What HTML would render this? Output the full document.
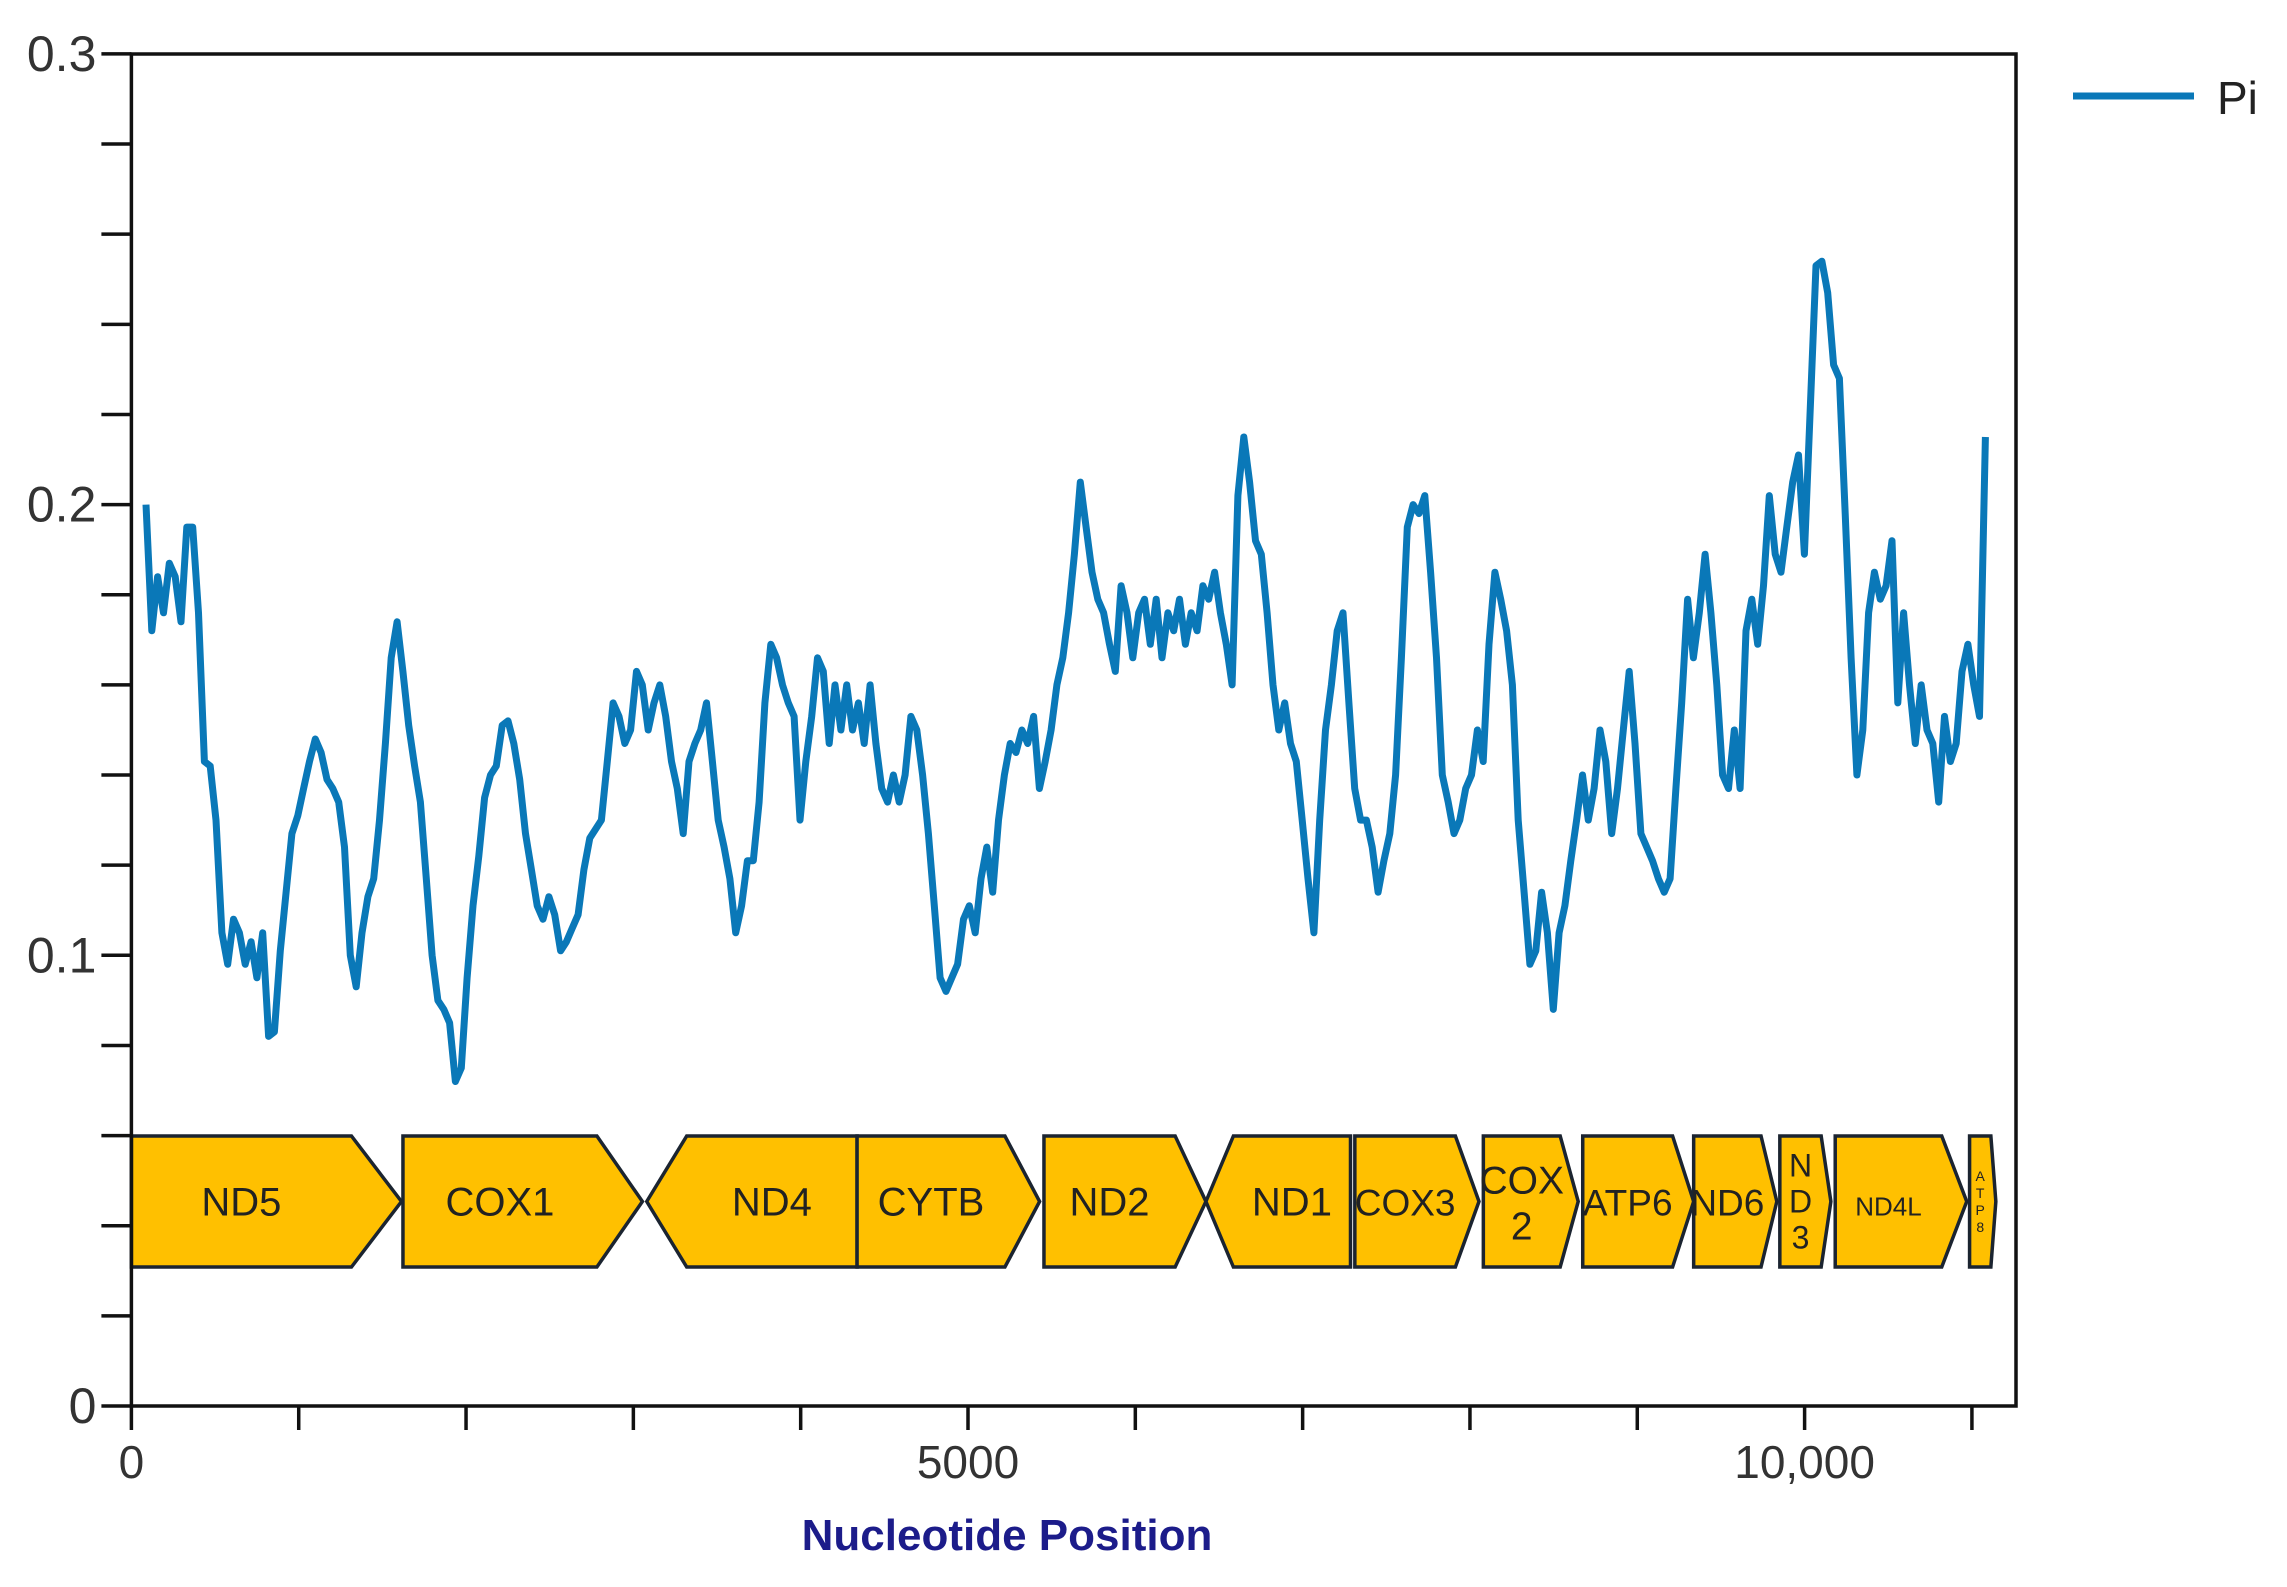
<!DOCTYPE html>
<html><head><meta charset="utf-8"><style>
html,body{margin:0;padding:0;background:#fff;}
svg{display:block;}
text{font-family:"Liberation Sans",sans-serif;}
</style></head><body>
<svg id="chart" width="2287" height="1587" viewBox="0 0 2287 1587" xmlns="http://www.w3.org/2000/svg">
<g id="genes"></g>
<g id="lineG"></g>
<g id="axes"></g>
<g>
<line x1="2073" y1="96" x2="2194" y2="96" stroke="#0a78b8" stroke-width="7"/>
<text x="2217" y="114" font-size="46" fill="#222">Pi</text>
</g>
<text x="1007" y="1550" font-size="44" font-weight="bold" fill="#1c1c8a" text-anchor="middle">Nucleotide Position</text>
</svg>
<script>
// ---- data ----
const windowStart = 87;      // nt, first sliding-window midpoint
const windowStep = 34.9;     // nt between windows
const piValues = [
.200,.172,.184,.176,.187,.184,.174,.195,.195,.176,.143,.142,.130,.105,.098,.108,.105,.098,.103,.095,
.105,.082,.083,.101,.114,.127,.131,.137,.143,.148,.145,.139,.137,.134,.124,.100,.093,.105,.113,.117,
.130,.147,.166,.174,.163,.151,.142,.134,.117,.100,.090,.088,.085,.072,.075,.095,.111,.122,.135,.140,
.142,.151,.152,.147,.139,.127,.119,.111,.108,.113,.109,.101,.103,.106,.109,.119,.126,.128,.130,.143,
.156,.153,.147,.150,.163,.160,.150,.156,.160,.153,.143,.137,.127,.143,.147,.150,.156,.143,.130,.124,
.117,.105,.111,.121,.121,.134,.156,.169,.166,.160,.156,.153,.130,.143,.153,.166,.163,.147,.160,.150,
.160,.150,.156,.147,.160,.147,.137,.134,.140,.134,.140,.153,.150,.140,.127,.111,.095,.092,.095,.098,
.108,.111,.105,.117,.124,.114,.130,.140,.147,.145,.150,.147,.153,.137,.143,.150,.160,.166,.176,.189,
.205,.195,.185,.179,.176,.169,.163,.182,.176,.166,.176,.179,.169,.179,.166,.176,.172,.179,.169,.176,
.172,.182,.179,.185,.176,.169,.160,.202,.215,.205,.192,.189,.176,.160,.150,.156,.147,.143,.130,.117,
.105,.130,.150,.160,.172,.176,.156,.137,.130,.130,.124,.114,.121,.127,.140,.166,.195,.200,.198,.202,
.185,.166,.140,.134,.127,.130,.137,.140,.150,.143,.169,.185,.179,.172,.160,.130,.114,.098,.101,.114,
.105,.088,.105,.111,.121,.130,.140,.130,.137,.150,.143,.127,.137,.150,.163,.147,.127,.124,.121,.117,
.114,.117,.137,.156,.179,.166,.176,.189,.176,.160,.140,.137,.150,.137,.172,.179,.169,.182,.202,.189,
.185,.195,.205,.211,.189,.221,.253,.254,.247,.231,.228,.198,.166,.140,.150,.176,.185,.179,.182,.192,
.156,.176,.160,.147,.160,.150,.147,.134,.153,.143,.147,.163,.169,.160,.153,.215
];
const geneNames = ["ND5","COX1","ND4","CYTB","ND2","ND1","COX3","COX2","ATP6","ND6","ND3","ND4L","ATP8"];
const geneStart = [0,1623,3080,4337,5454,6422,7312,8080,8674,9337,9852,10183,10986];
const geneEnd   = [1614,3054,4337,5428,6422,7286,8054,8647,9337,9834,10157,10969,11143];
const geneDir   = [1,1,-1,1,1,-1,1,1,1,1,1,1,1];
const yTicks = [0,0.1,0.2,0.3];
const yTickLabels = ["0","0.1","0.2","0.3"];
const xTicks = [0,5000,10000];
const xTickLabels = ["0","5000","10,000"];

// ---- scales ----
const X0=131.4, PXNT=0.16732, Y0=1406, PXPI=4507, RIGHT=2016, TOP=54;
const sx = v => X0 + v*PXNT;
const sy = v => Y0 - v*PXPI;
const NS="http://www.w3.org/2000/svg";
function mk(tag, attrs, parent){const e=document.createElementNS(NS,tag);for(const k in attrs)e.setAttribute(k,attrs[k]);parent.appendChild(e);return e;}

// ---- genes ----
const gG=document.getElementById('genes');
const bandTop=1136, bandBot=1267, mid=(bandTop+bandBot)/2;
geneNames.forEach((n,i)=>{
  const a=sx(geneStart[i]), b=sx(geneEnd[i]); const w=b-a; const h=Math.min(50,0.19*w);
  let pts;
  if(geneDir[i]>0) pts=[[a,bandTop],[b-h,bandTop],[b,mid],[b-h,bandBot],[a,bandBot]];
  else pts=[[a,mid],[a+h,bandTop],[b,bandTop],[b,bandBot],[a+h,bandBot]];
  const p=mk('polygon',{points:pts.map(q=>q.join(',')).join(' '),fill:'#FFC000',stroke:'#1b2430','stroke-width':3.5},gG);
  
  
  const cx=geneDir[i]>0?(a+b-h)/2:(a+h+b)/2;
  if(n==="COX2"){
    const t=mk('text',{x:cx,y:mid-8,'font-size':39,fill:'#222','text-anchor':'middle'},gG);t.textContent="COX";
    
    const t2=mk('text',{x:cx,y:mid+38,'font-size':39,fill:'#222','text-anchor':'middle'},gG);t2.textContent="2";
    
  } else if(n==="ND3"||n==="ATP8"){
    const chars=n.split(''); const fs=n==="ND3"?32:14; const lh=n==="ND3"?36:17;
    const t=mk('text',{x:cx,'font-size':fs,fill:'#222','text-anchor':'middle'},gG);
    
    chars.forEach((c,k)=>{const s=mk('tspan',{x:cx,y:mid-(chars.length-1)*lh/2+k*lh+fs*0.35},t);s.textContent=c;});
  } else {
    const fs=n==="ND4L"?26:(n==="ND6"||n==="ATP6"||n==="COX3"?37:40);
    const t=mk('text',{x:cx,y:mid+14,'font-size':fs,fill:'#222','text-anchor':'middle'},gG);t.textContent=n;
    
  }
});

// ---- line ----
const lG=document.getElementById('lineG');
const d=piValues.map((v,i)=>(i?'L':'M')+sx(windowStart+i*windowStep).toFixed(1)+','+sy(v).toFixed(1)).join(' ');
const path=mk('path',{d:d,fill:'none',stroke:'#0a78b8','stroke-width':7,'stroke-linejoin':'round'},lG);



// ---- axes ----
const aG=document.getElementById('axes');
const box=mk('rect',{x:X0,y:TOP,width:RIGHT-X0,height:Y0-TOP,fill:'none',stroke:'#111','stroke-width':3.5},aG);


for(let k=0;k<=15;k++){
  const v=k*0.02, y=sy(v);
  const t=mk('line',{x1:X0-30,y1:y,x2:X0,y2:y,stroke:'#111','stroke-width':3.5},aG);
  
  
}
yTicks.forEach((v,i)=>{
  const t=mk('text',{x:X0-35,y:sy(v)+17,'font-size':50,fill:'#333','text-anchor':'end'},aG);
  t.textContent=yTickLabels[i];
  
  
});
for(let k=0;k<=11;k++){
  const x=sx(k*1000);
  const t=mk('line',{x1:x,y1:Y0,x2:x,y2:Y0+24,stroke:'#111','stroke-width':3.5},aG);
  
  
}
xTicks.forEach((v,i)=>{
  const t=mk('text',{x:sx(v),y:Y0+72,'font-size':46,fill:'#333','text-anchor':'middle'},aG);
  t.textContent=xTickLabels[i];
  
  
});
</script>
</body></html>
